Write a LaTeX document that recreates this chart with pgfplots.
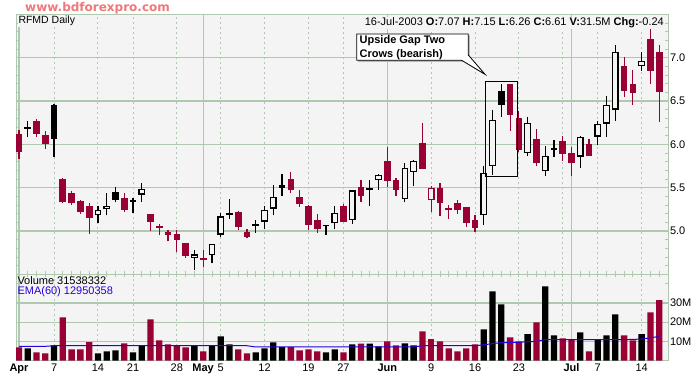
\documentclass[border=0pt]{standalone}
\usepackage{pgfplots}
\pgfplotsset{compat=1.18}
\usepackage{pgfplotstable}
\usepackage{fontspec}
\setmainfont{Liberation Sans}
\newfontfamily\wmfont{DejaVu Sans}

\definecolor{cred}{RGB}{153,0,51}
\definecolor{gridc}{RGB}{176,200,176}
\definecolor{bgc}{RGB}{244,244,244}
\definecolor{emablue}{RGB}{40,0,220}
\definecolor{wm}{RGB}{240,120,120}

% i = trading day (0 = 1-Apr-2003), o h l c = open high low close, v = volume (millions)
% red filled candles
\pgfplotstableread{
i o h l c v
0 6.12 6.17 5.83 5.91 6.87
2 6.27 6.29 6.09 6.12 4.26
3 6.11 6.15 5.95 6.01 3.74
5 5.60 5.61 5.32 5.33 22.5
6 5.44 5.46 5.30 5.32 5.83
7 5.35 5.36 5.20 5.22 5.83
8 5.29 5.32 4.97 5.15 9.65
12 5.38 5.44 5.22 5.24 8.96
15 5.20 5.20 5.00 5.11 21.5
16 5.055 5.08 4.95 5.035 10.5
17 4.99 5.01 4.88 4.96 8.43
18 4.97 5.01 4.76 4.90 7.91
19 4.86 4.86 4.69 4.71 6.87
21 4.685 4.78 4.59 4.665 4.78
25 5.22 5.23 5.01 5.05 5.83
26 4.99 5.02 4.92 4.93 3.74
31 5.60 5.68 5.44 5.47 7.04
32 5.39 5.47 5.28 5.31 5.30
33 5.29 5.30 5.01 5.07 5.83
34 5.13 5.20 4.98 5.02 4.78
37 5.29 5.31 5.10 5.10 4.26
39 5.51 5.59 5.34 5.41 8.78
42 5.81 5.97 5.51 5.58 10.0
43 5.59 5.61 5.41 5.47 7.91
46 6.02 6.25 5.72 5.72 15.2
48 5.50 5.56 5.17 5.32 10.0
49 5.265 5.30 5.14 5.245 6.35
50 5.32 5.36 5.20 5.24 4.78
51 5.28 5.28 5.05 5.09 6.35
52 5.13 5.19 4.99 5.03 8.43
56 6.70 6.70 6.16 6.34 12.1
57 6.31 6.39 5.91 5.94 10.0
59 6.06 6.18 5.75 5.78 19.9
62 6.04 6.10 5.81 5.89 11.6
63 5.90 5.97 5.63 5.78 11.0
65 6.00 6.06 5.87 5.87 4.78
69 6.90 7.01 6.55 6.62 13.1
70 6.70 6.86 6.46 6.59 10.5
72 7.22 7.34 6.70 6.85 25.1
73 7.07 7.15 6.26 6.61 31.5
}\redfilled

% black filled candles
\pgfplotstableread{
i o h l c v
1 6.20 6.27 6.08 6.18 6.35
4 6.45 6.47 5.86 6.06 7.91
11 5.45 5.51 5.33 5.36 5.30
13 5.36 5.38 5.21 5.34 4.26
24 5.21 5.37 5.14 5.19 8.43
27 5.08 5.13 4.98 5.06 4.26
30 5.53 5.66 5.41 5.50 7.04
35 5.075 5.075 4.96 5.055 4.26
40 5.495 5.59 5.29 5.475 8.78
55 6.62 6.70 6.32 6.46 29.3
61 5.955 6.05 5.86 5.935 13.1
}\blackfilled

% black hollow candles
\pgfplotstableread{
i o h l c v
9 5.18 5.29 5.09 5.24 3.74
10 5.25 5.44 5.18 5.29 4.78
14 5.42 5.55 5.33 5.49 7.91
20 4.69 4.78 4.55 4.73 7.57
22 4.72 4.85 4.63 4.85 7.57
23 4.96 5.21 4.93 5.17 12.6
28 5.11 5.29 5.02 5.24 6.35
29 5.26 5.53 5.18 5.39 9.48
36 5.09 5.29 5.02 5.21 5.83
38 5.13 5.47 5.08 5.47 8.43
41 5.59 5.66 5.47 5.65 7.39
44 5.37 5.79 5.33 5.73 8.96
45 5.68 5.82 5.52 5.81 7.91
53 5.18 5.75 5.07 5.67 16.3
54 5.75 6.40 5.65 6.28 36.1
58 5.90 6.32 5.87 6.25 13.7
60 5.69 5.98 5.64 5.87 38.7
64 5.86 6.10 5.73 6.09 14.7
66 6.09 6.27 5.99 6.24 11.0
67 6.24 6.56 6.09 6.46 13.1
68 6.40 7.15 6.27 7.07 24.1
71 6.90 7.07 6.85 6.96 13.7
}\blackhollow

% red hollow candles
\pgfplotstableread{
i o h l c v
47 5.36 5.52 5.22 5.50 11.0
}\redhollow

% EMA(60) of volume (millions)
\pgfplotstableread{
i e
0 7.4
3 7.4
4 7.7
26 7.7
27 7.05
45 7.05
46 7.7
52 7.7
53 8.2
54 8.8
55 9.3
56 9.4
57 9.5
58 9.8
59 10.0
60 10.9
69 10.9
70 11.0
71 11.2
72 11.8
73 12.6
}\ema

\pgfplotsset{
  cndl/.style 2 args={draw=none, mark=none, forget plot,
    /pgfplots/error bars/y dir=plus,
    /pgfplots/error bars/y explicit,
    /pgfplots/error bars/error mark=none,
    /pgfplots/error bars/error bar style={line width=#1, draw=#2, solid}},
  vbar/.style={ybar, bar width=6.3pt, bar shift=0pt, fill=#1, draw=none, forget plot},
  smallfont/.style={font=\fontsize{11}{13}\selectfont},
}

\begin{document}
\begin{tikzpicture}[x=1pt,y=1pt]
\path[use as bounding box, fill=white] (0,0) rectangle (700,378);

% ---------------- volume panel ----------------
\begin{axis}[
  at={(16pt,17.5pt)}, anchor=south west,
  scale only axis, width=652.3pt, height=85.5pt,
  xmin=-0.342, xmax=74.04, ymin=0, ymax=44.6,
  axis background/.style={fill=bgc},
  axis line style={draw=gridc, line width=1pt},
  tick style={draw=gridc, line width=0.8pt},
  major tick length=0pt, minor tick length=3pt, ytick align=inside,
  xtick={4,9,13,18,23,28,33,37,47,52,57,62,66,71},
  xticklabels={7,14,21,28,5,12,19,27,9,16,23,,7,14},
  extra x ticks={0,21,42,63},
  extra x tick labels={\textbf{Apr},\textbf{May},\textbf{Jun},\textbf{Jul}},
  extra x tick style={x grid style={solid, line width=1.2pt}},
  ytick={10,20,30}, yticklabels={10M,20M,30M},
  minor ytick={40},
  ytick pos=both, yticklabel pos=right,
  xmajorgrids, ymajorgrids,
  x grid style={gridc, line width=1pt, dash pattern=on 2pt off 3pt},
  y grid style={gridc, line width=1.2pt},
  xticklabel style={smallfont, inner sep=0pt, anchor=north, yshift=-3pt},
  yticklabel style={smallfont, inner sep=0pt, anchor=west, xshift=1.5pt},
]
\addplot[vbar=cred] table[x=i, y=v] {\redfilled};
\addplot[vbar=cred] table[x=i, y=v] {\redhollow};
\addplot[vbar=black] table[x=i, y=v] {\blackfilled};
\addplot[vbar=black] table[x=i, y=v] {\blackhollow};
\addplot[emablue, line width=1pt, mark=none] table[x=i, y=e] {\ema};
\end{axis}

% ---------------- price panel ----------------
\begin{axis}[
  at={(16pt,104pt)}, anchor=south west,
  scale only axis, width=652.3pt, height=259pt,
  xmin=-0.342, xmax=74.04, ymin=4.505, ymax=7.4925,
  axis background/.style={fill=bgc},
  axis line style={draw=gridc, line width=1pt},
  tick style={draw=gridc, line width=0.8pt},
  major tick length=3pt, minor tick length=6pt,
  xtick align=center, ytick align=inside,
  xtick pos=left, ytick pos=both, yticklabel pos=right,
  xtick={4,9,13,18,23,28,33,37,47,52,57,62,66,71}, xticklabels={},
  extra x ticks={0,21,42,63}, extra x tick labels={},
  extra x tick style={x grid style={solid, line width=1.2pt}},
  minor xtick={0,...,73},
  ytick={5,5.5,6,6.5,7}, yticklabels={5.0,5.5,6.0,6.5,7.0},
  extra y ticks={4.6,4.7,4.8,4.9,5.1,5.2,5.3,5.4,5.6,5.7,5.8,5.9,6.1,6.2,6.3,6.4,6.6,6.7,6.8,6.9,7.1,7.2,7.3,7.4},
  extra y tick labels={}, extra y tick style={ymajorgrids=false},
  xmajorgrids, ymajorgrids,
  x grid style={gridc, line width=1pt, dash pattern=on 2pt off 3pt},
  y grid style={gridc, line width=1.2pt},
  yticklabel style={smallfont, inner sep=0pt, anchor=west, xshift=1.5pt},
]
% wicks
\addplot[cndl={1.2pt}{cred}] table[x=i, y=l, y error plus expr={\thisrow{h}-\thisrow{l}}] {\redfilled};
\addplot[cndl={1.2pt}{cred}] table[x=i, y=l, y error plus expr={\thisrow{h}-\thisrow{l}}] {\redhollow};
\addplot[cndl={1.2pt}{black}] table[x=i, y=l, y error plus expr={\thisrow{h}-\thisrow{l}}] {\blackfilled};
\addplot[cndl={1.2pt}{black}] table[x=i, y=l, y error plus expr={\thisrow{h}-\thisrow{l}}] {\blackhollow};
% bodies
\addplot[cndl={6.7pt}{cred}] table[x=i, y expr={min(\thisrow{o},\thisrow{c})}, y error plus expr={abs(\thisrow{c}-\thisrow{o})}] {\redfilled};
\addplot[cndl={6.7pt}{cred}] table[x=i, y expr={min(\thisrow{o},\thisrow{c})}, y error plus expr={abs(\thisrow{c}-\thisrow{o})}] {\redhollow};
\addplot[cndl={6.7pt}{black}] table[x=i, y expr={min(\thisrow{o},\thisrow{c})}, y error plus expr={abs(\thisrow{c}-\thisrow{o})}] {\blackfilled};
\addplot[cndl={6.7pt}{black}] table[x=i, y expr={min(\thisrow{o},\thisrow{c})}, y error plus expr={abs(\thisrow{c}-\thisrow{o})}] {\blackhollow};
% hollow interiors
\addplot[cndl={4.3pt}{bgc}] table[x=i, y expr={min(\thisrow{o},\thisrow{c})+0.014}, y error plus expr={abs(\thisrow{c}-\thisrow{o})-0.028}] {\blackhollow};
\addplot[cndl={4.3pt}{bgc}] table[x=i, y expr={min(\thisrow{o},\thisrow{c})+0.014}, y error plus expr={abs(\thisrow{c}-\thisrow{o})-0.028}] {\redhollow};
% pattern box
\draw[black, line width=1pt] (axis cs:53.17,5.635) rectangle (axis cs:56.82,6.72);
\end{axis}

% ---------------- texts ----------------
\node[anchor=base west, inner sep=0pt, text=wm, font=\wmfont\bfseries\fontsize{12}{14}\selectfont]
  at (25,366.3) {www.bdforexpro.com};
\node[anchor=base west, inner sep=1pt, fill=bgc, font=\fontsize{10.5}{12}\selectfont]
  at (17.3,354) {RFMD Daily};
\node[anchor=base east, inner sep=1pt, fill=bgc, font=\fontsize{11}{13}\selectfont]
  at (665,352.3) {16-Jul-2003 \textbf{O:}7.07 \textbf{H:}7.15 \textbf{L:}6.26 \textbf{C:}6.61 \textbf{V:}31.5M \textbf{Chg:}-0.24};
\node[anchor=base west, inner sep=0pt, font=\fontsize{11}{13}\selectfont]
  at (17.3,94) {Volume 31538332};
\node[anchor=base west, inner sep=0pt, text=emablue, font=\fontsize{11}{13}\selectfont]
  at (17.3,84) {EMA(60) 12950358};

% callout
\begin{scope}[shift={(1.5,-1.5)}]
\fill[gray!55] (356.7,344) -- (468.3,344) -- (468.3,323) -- (485,303.7) -- (461.7,317.7) -- (356.7,317.7) -- cycle;
\end{scope}
\filldraw[fill=white, draw=black, line width=0.8pt]
  (356.7,344) -- (468.3,344) -- (468.3,323) -- (485,303.7) -- (461.7,317.7) -- (356.7,317.7) -- cycle;
\node[anchor=base west, inner sep=0pt, font=\bfseries\fontsize{11}{13}\selectfont] at (359.5,334) {Upside Gap Two};
\node[anchor=base west, inner sep=0pt, font=\bfseries\fontsize{11}{13}\selectfont] at (359.5,320.7) {Crows (bearish)};
\end{tikzpicture}
\end{document}
